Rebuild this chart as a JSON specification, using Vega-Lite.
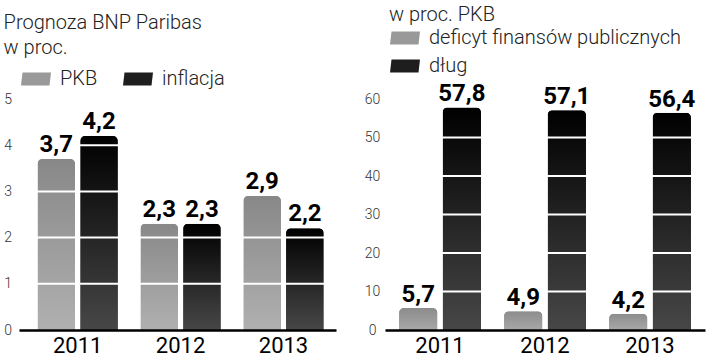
{
  "$schema": "https://vega.github.io/schema/vega-lite/v6.json",
  "padding": {"left": 3, "top": 5, "right": 0, "bottom": 0},
  "background": "white",
  "datasets": {
    "left": [
      {"year": "2011", "series": "PKB", "value": 3.7},
      {"year": "2011", "series": "inflacja", "value": 4.2},
      {"year": "2012", "series": "PKB", "value": 2.3},
      {"year": "2012", "series": "inflacja", "value": 2.3},
      {"year": "2013", "series": "PKB", "value": 2.9},
      {"year": "2013", "series": "inflacja", "value": 2.2}
    ],
    "right": [
      {"year": "2011", "series": "deficyt finansów publicznych", "value": 5.7},
      {"year": "2011", "series": "dług", "value": 57.8},
      {"year": "2012", "series": "deficyt finansów publicznych", "value": 4.9},
      {"year": "2012", "series": "dług", "value": 57.1},
      {"year": "2013", "series": "deficyt finansów publicznych", "value": 4.2},
      {"year": "2013", "series": "dług", "value": 56.4}
    ],
    "leftGrid": [{"g": 1}, {"g": 2}, {"g": 3}, {"g": 4}, {"g": 5}],
    "rightGrid": [{"g": 10}, {"g": 20}, {"g": 30}, {"g": 40}, {"g": 50}, {"g": 60}]
  },
  "config": {
    "font": "Roboto",
    "view": {"stroke": null},
    "locale": {"number": {"decimal": ",", "thousands": " ", "grouping": [3], "currency": ["", " zł"]}},
    "concat": {"spacing": 27}
  },
  "resolve": {"scale": {"y": "independent", "x": "independent", "xOffset": "independent", "color": "independent"}},
  "hconcat": [
    {
      "width": 317,
      "height": 231,
      "title": {"text": ["Prognoza BNP Paribas", "w proc."], "anchor": "start", "frame": "bounds", "fontSize": 20, "fontWeight": 300, "lineHeight": 25, "offset": 6, "color": "#222"},
      "encoding": {
        "y": {"field": "value", "type": "quantitative", "scale": {"domain": [0, 5], "nice": false},
          "axis": {"values": [0, 1, 2, 3, 4, 5], "title": null, "domain": false, "ticks": false, "grid": false, "labelAlign": "center", "labelPadding": 11.5, "labelFontSize": 14, "labelFontWeight": 300, "labelColor": "#333"}}
      },
      "layer": [
        {
          "data": {"name": "left"},
          "mark": {"type": "bar", "cornerRadiusTopLeft": 5, "cornerRadiusTopRight": 5},
          "encoding": {
            "x": {"field": "year", "type": "nominal", "scale": {"paddingInner": 0.22, "paddingOuter": 0.15, "align": 0.6},
              "axis": {"title": null, "domain": true, "domainColor": "black", "domainWidth": 2.5, "ticks": false, "labelFontSize": 22, "labelColor": "black", "labelPadding": 5, "labelAngle": 0, "zindex": 2, "grid": false}},
            "xOffset": {"field": "series", "type": "nominal", "scale": {"domain": ["PKB", "inflacja"], "paddingInner": 0.12}},
            "color": {"field": "series", "type": "nominal", "scale": {"domain": ["PKB", "inflacja"], "range": ["#999999", "#1e1e1e"]},
              "legend": {"orient": "none", "legendX": 2, "legendY": -35, "direction": "horizontal", "title": null, "symbolType": "M-0.9,-0.43H1L0.9,0.43H-1Z", "symbolSize": 900, "symbolStrokeWidth": 0, "symbolOpacity": 1, "labelFontSize": 20, "labelFontWeight": 300, "labelColor": "#222", "labelOffset": 9, "columnPadding": 25, "labelLimit": 400}}
          }
        },
        {
          "data": {"name": "left"},
          "transform": [{"filter": "datum.series === 'PKB'"}],
          "mark": {"type": "bar", "cornerRadiusTopLeft": 5, "cornerRadiusTopRight": 5,
            "fill": {"gradient": "linear", "x1": 0, "y1": 1, "x2": 0, "y2": 0, "stops": [{"offset": 0, "color": "#b0b0b0"}, {"offset": 1, "color": "#888888"}]}},
          "encoding": {
            "x": {"field": "year", "type": "nominal"},
            "xOffset": {"field": "series", "type": "nominal"}
          }
        },
        {
          "data": {"name": "left"},
          "transform": [{"filter": "datum.series === 'inflacja'"}],
          "mark": {"type": "bar", "cornerRadiusTopLeft": 5, "cornerRadiusTopRight": 5,
            "fill": {"gradient": "linear", "x1": 0, "y1": 1, "x2": 0, "y2": 0, "stops": [{"offset": 0, "color": "#474747"}, {"offset": 1, "color": "#000000"}]}},
          "encoding": {
            "x": {"field": "year", "type": "nominal"},
            "xOffset": {"field": "series", "type": "nominal"}
          }
        },
        {
          "data": {"name": "leftGrid"},
          "mark": {"type": "rule", "color": "white", "strokeWidth": 2},
          "encoding": {"y": {"field": "g", "type": "quantitative"}}
        },
        {
          "data": {"name": "left"},
          "mark": {"type": "text", "baseline": "alphabetic", "dy": -7, "fontSize": 24, "fontWeight": "bold", "color": "black"},
          "encoding": {
            "x": {"field": "year", "type": "nominal"},
            "xOffset": {"field": "series", "type": "nominal"},
            "text": {"field": "value", "type": "quantitative", "format": ".1f"}
          }
        }
      ]
    },
    {
      "width": 320,
      "height": 231,
      "title": {"text": "w proc. PKB", "anchor": "start", "frame": "group", "dx": 4, "fontSize": 20, "fontWeight": 300, "offset": -2, "color": "#222"},
      "encoding": {
        "y": {"field": "value", "type": "quantitative", "scale": {"domain": [0, 60], "nice": false},
          "axis": {"values": [0, 10, 20, 30, 40, 50, 60], "title": null, "domain": false, "ticks": false, "grid": false, "labelAlign": "center", "labelPadding": 13, "labelFontSize": 14, "labelFontWeight": 300, "labelColor": "#333"}}
      },
      "layer": [
        {
          "data": {"name": "right"},
          "mark": {"type": "bar", "cornerRadiusTopLeft": 5, "cornerRadiusTopRight": 5},
          "encoding": {
            "x": {"field": "year", "type": "nominal", "scale": {"paddingInner": 0.22, "paddingOuter": 0.134},
              "axis": {"title": null, "domain": true, "domainColor": "black", "domainWidth": 2.5, "ticks": false, "labelFontSize": 22, "labelColor": "black", "labelPadding": 5, "labelAngle": 0, "zindex": 2, "grid": false}},
            "xOffset": {"field": "series", "type": "nominal", "scale": {"domain": ["deficyt finansów publicznych", "dług"], "paddingInner": 0.12}},
            "color": {"field": "series", "type": "nominal", "scale": {"domain": ["deficyt finansów publicznych", "dług"], "range": ["#999999", "#1e1e1e"]},
              "legend": {"orient": "none", "legendX": 5, "legendY": -76, "direction": "vertical", "title": null, "symbolType": "M-0.9,-0.43H1L0.9,0.43H-1Z", "symbolSize": 900, "symbolStrokeWidth": 0, "symbolOpacity": 1, "labelFontSize": 20, "labelFontWeight": 300, "labelColor": "#222", "labelOffset": 9, "rowPadding": 3, "labelLimit": 400}}
          }
        },
        {
          "data": {"name": "right"},
          "transform": [{"filter": "datum.series === 'deficyt finansów publicznych'"}],
          "mark": {"type": "bar", "cornerRadiusTopLeft": 5, "cornerRadiusTopRight": 5,
            "fill": {"gradient": "linear", "x1": 0, "y1": 1, "x2": 0, "y2": 0, "stops": [{"offset": 0, "color": "#a8a8a8"}, {"offset": 1, "color": "#8c8c8c"}]}},
          "encoding": {
            "x": {"field": "year", "type": "nominal"},
            "xOffset": {"field": "series", "type": "nominal"}
          }
        },
        {
          "data": {"name": "right"},
          "transform": [{"filter": "datum.series === 'dług'"}],
          "mark": {"type": "bar", "cornerRadiusTopLeft": 5, "cornerRadiusTopRight": 5,
            "fill": {"gradient": "linear", "x1": 0, "y1": 1, "x2": 0, "y2": 0, "stops": [{"offset": 0, "color": "#474747"}, {"offset": 1, "color": "#000000"}]}},
          "encoding": {
            "x": {"field": "year", "type": "nominal"},
            "xOffset": {"field": "series", "type": "nominal"}
          }
        },
        {
          "data": {"name": "rightGrid"},
          "mark": {"type": "rule", "color": "white", "strokeWidth": 2},
          "encoding": {"y": {"field": "g", "type": "quantitative"}}
        },
        {
          "data": {"name": "right"},
          "mark": {"type": "text", "baseline": "alphabetic", "dy": -6, "fontSize": 24, "fontWeight": "bold", "color": "black"},
          "encoding": {
            "x": {"field": "year", "type": "nominal"},
            "xOffset": {"field": "series", "type": "nominal"},
            "text": {"field": "value", "type": "quantitative", "format": ".1f"}
          }
        }
      ]
    }
  ]
}
